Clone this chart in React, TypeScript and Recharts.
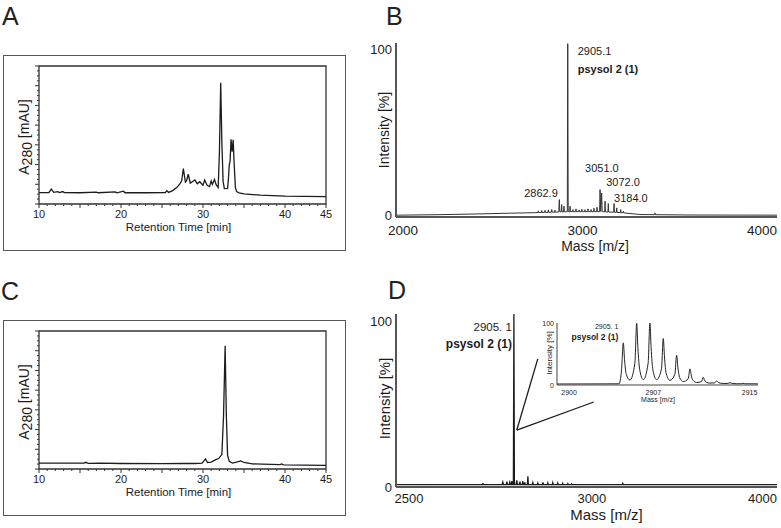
import React from "react";
import {
  LineChart,
  Line,
  XAxis,
  YAxis,
  ReferenceArea,
  ReferenceDot,
  ReferenceLine,
  Label,
} from "recharts";

const FONT = '"Liberation Sans", Arial, Helvetica, sans-serif';
const INK = "#1c1c1c";

// A: RP-HPLC of crude extract, [retention time min, A280 (arb. units)]
const TRACE_A = [
  [10, 5.8], [11.2, 5.8], [11.5, 7.6], [11.8, 5.9], [12.3, 6.3], [12.5, 5.8], [12.9, 6.3],
  [13.1, 5.8], [15, 5.7], [17, 6.0], [17.2, 5.7], [19.3, 6.1], [19.5, 5.7], [20.3, 6.5],
  [20.5, 5.7], [23, 5.7], [25.4, 5.8], [25.6, 6.7], [25.8, 5.9], [26.3, 6.8], [26.8, 8.3],
  [27.2, 10.3], [27.4, 11.8], [27.6, 18.0], [27.85, 11.1], [28.0, 11.8], [28.2, 15.1],
  [28.45, 10.6], [28.7, 11.3], [29.0, 12.2], [29.3, 10.3], [29.6, 11.3], [30.0, 9.5],
  [30.2, 12.2], [30.5, 9.5], [30.8, 8.8], [31.0, 11.7], [31.15, 9.9], [31.4, 12.5],
  [31.6, 9.8], [31.85, 8.3], [32.0, 25.9], [32.16, 61.5], [32.3, 31.5], [32.45, 11.6],
  [32.6, 7.8], [33.0, 7.9], [33.1, 12.7], [33.2, 19.8], [33.3, 21.5], [33.42, 32.8],
  [33.55, 26.5], [33.68, 32.6], [33.8, 20.4], [33.95, 8.3], [34.1, 6.3], [34.4, 5.7],
  [35, 5.1], [37, 4.5], [40, 4.0], [45, 3.7],
];

// C: purified peptide
const TRACE_C = [
  [10, 3.0], [15.5, 3.0], [15.7, 3.4], [16, 2.9], [17.5, 3.0], [20, 2.8], [25, 2.7],
  [27.5, 2.9], [29, 2.8], [29.9, 3.0], [30.3, 5.1], [30.55, 3.3], [31.0, 3.5], [31.5, 4.6],
  [31.9, 5.3], [32.3, 7.3], [32.5, 26.5], [32.7, 62.5], [32.85, 26.5], [33.0, 6.9],
  [33.2, 3.9], [33.6, 3.0], [34.2, 3.6], [34.6, 4.1], [35.0, 3.3], [36, 2.6], [39.4, 2.2],
  [39.6, 2.6], [39.8, 2.1], [45, 1.8],
];

const RT_LABELS = [10, 20, 30, 40, 45];
const RT_TICKS = Array.from({ length: 36 }, (_, i) => 10 + i);
const ABS_TICKS = Array.from({ length: 29 }, (_, i) => i * 2.5);

// B: MALDI spectrum of crude extract, [m/z, intensity %]
const SPECTRUM_B = [
  [1961, 0.2], [2200, 0.5], [2400, 0.9], [2600, 1.4], [2740, 1.7],
  [2752, 1.8], [2754, 2.8], [2756, 1.8], [2771, 1.8], [2773, 3.0], [2775, 1.8],
  [2789, 1.9], [2791, 3.1], [2793, 1.9], [2808, 1.9], [2810, 3.4], [2812, 1.9],
  [2827, 2.0], [2829, 3.6], [2831, 2.0], [2845, 2.0], [2847, 3.2], [2849, 2.0],
  [2868, 2.1], [2871, 9.6], [2874, 2.2], [2882, 2.2], [2884, 6.6], [2886, 2.2],
  [2895, 2.2], [2897, 5.6], [2899, 2.2], [2915.5, 2.3], [2918, 103.5], [2920.5, 2.3],
  [2929, 2.3], [2931, 5.6], [2933, 2.3], [2945, 2.3], [2947, 3.6], [2949, 2.3],
  [2962, 2.3], [2964, 4.0], [2966, 2.3], [2979, 2.3], [2981, 3.4], [2983, 2.3],
  [2995, 2.3], [2997, 3.8], [2999, 2.3], [3012, 2.3], [3014, 3.5], [3016, 2.3],
  [3029, 2.3], [3031, 4.0], [3033, 2.3], [3046, 2.3], [3048, 3.6], [3050, 2.3],
  [3062, 2.3], [3064, 4.4], [3066, 2.3], [3079, 2.3], [3081, 5.0], [3083, 2.3],
  [3095.5, 2.3], [3098, 15.6], [3102, 2.4], [3107, 13.6], [3110, 2.3],
  [3124, 2.2], [3126, 8.6], [3128, 2.2], [3142, 2.1], [3144, 7.2], [3146, 2.1],
  [3174, 2.0], [3176, 7.2], [3178, 2.0], [3189, 1.9], [3191, 4.6], [3193, 1.9],
  [3211, 1.7], [3213, 3.6], [3215, 1.7], [3226, 1.6], [3228, 2.6], [3230, 1.6],
  [3320, 0.6], [3402, 0.5], [3404, 1.6], [3406, 0.5], [3600, 0.3], [4084, 0.2],
];
const MZ_TICKS_B = [2000, 3000, 4000];
const MZ_TICK_TEXT_B = ["2000", "3000", "4000"];
const INT_TICKS = [0, 100];

// D: MALDI spectrum of purified peptide
const SPECTRUM_D = [
  [1852, 1.4], [2359, 1.4], [2361, 2.4], [2363, 1.4], [2474, 1.4], [2478, 3.0], [2482, 1.4],
  [2498, 1.4], [2502, 3.2], [2506, 1.4], [2515, 1.4], [2519, 3.0], [2523, 1.4],
  [2528, 1.4], [2531, 3.6], [2535, 1.4], [2540, 1.4], [2543, 104.8], [2546, 1.4],
  [2556, 1.4], [2560, 4.0], [2564, 1.4], [2574, 1.4], [2578, 3.2], [2582, 1.4],
  [2591, 1.4], [2595, 3.6], [2599, 1.4], [2604, 1.4], [2607, 2.8], [2610, 1.4],
  [2622, 1.4], [2625, 6.5], [2628, 1.4], [2651, 1.4], [2654, 2.6], [2657, 1.4],
  [2680, 1.4], [2683, 2.4], [2686, 1.4], [2710, 1.4], [2713, 2.8], [2716, 1.4],
  [2739, 1.4], [2742, 2.5], [2745, 1.4], [2768, 1.4], [2771, 2.6], [2774, 1.4],
  [2797, 1.4], [2800, 2.4], [2803, 1.4], [2826, 1.4], [2829, 2.2], [2832, 1.4],
  [2856, 1.4], [2859, 2.1], [2862, 1.4], [2879, 1.4], [2882, 1.9], [2885, 1.4],
  [3178, 1.4], [3181, 2.2], [3184, 1.4], [4085, 1.4],
];
const MZ_TICKS_D = [1928, 3000, 4000];
const MZ_TICK_TEXT_D = ["2500", "3000", "4000"];

// D inset: isotope cluster
const ISOTOPES_D = [
  [2899, 1.6], [2901, 1.7], [2903, 1.8], [2904.16, 1.9], [2904.36, 24], [2904.51, 68],
  [2904.61, 41], [2904.76, 17], [2905.06, 8], [2905.47, 35], [2905.62, 99.5],
  [2905.72, 60], [2905.87, 25], [2906.17, 8.6], [2906.57, 35], [2906.72, 100],
  [2906.82, 60], [2906.97, 24], [2907.27, 8.5], [2907.68, 26], [2907.83, 75],
  [2907.93, 45], [2908.08, 18], [2908.38, 7.5], [2908.79, 17], [2908.94, 48],
  [2909.04, 29], [2909.19, 12], [2909.49, 5.5], [2909.9, 10], [2910.05, 26],
  [2910.15, 16], [2910.3, 7.5], [2910.6, 4], [2911.0, 5.5], [2911.15, 12.4],
  [2911.25, 8], [2911.4, 4.5], [2911.7, 3], [2912.1, 3.5], [2912.26, 6.5],
  [2912.4, 4], [2912.8, 2.5], [2913.2, 2.5], [2913.37, 3.8], [2913.55, 2.6],
  [2913.9, 2.0], [2914.3, 2.0], [2914.45, 2.8], [2914.65, 2.0], [2915.7, 1.8],
];
const MZ_TICKS_INSET = [2900, 2907, 2915];

const toRows = (pts: number[][]) => pts.map(([x, y]) => ({ x, y }));

function RtTick(props: any) {
  const { x, y, payload } = props;
  const v = payload.value;
  const major = v % 5 === 0;
  return (
    <g>
      <line x1={x} x2={x} y1={y} y2={y + (major ? 4 : 2)} stroke="#333" />
      {RT_LABELS.includes(v) && (
        <text x={x} y={y + 9.5} textAnchor="middle" dominantBaseline="central"
          fontSize={11} fontFamily={FONT} fill={INK}>{v}</text>
      )}
    </g>
  );
}

function AbsTick(props: any) {
  const { x, y, payload } = props;
  const major = payload.value % 10 === 0;
  return <line x1={x} x2={x - (major ? 4 : 2)} y1={y} y2={y} stroke="#333" />;
}

const mzTick = (values: number[], texts: string[], dy: number, size: number) => (props: any) => {
  const { x, y, payload } = props;
  const i = values.indexOf(payload.value);
  return (
    <text x={x} y={y + dy} textAnchor="middle" dominantBaseline="central"
      fontSize={size} fontFamily={FONT} fill={INK}>{texts[i]}</text>
  );
};

const intTick = (dx: number, size: number) => (props: any) => (
  <text x={props.x - dx} y={props.y} textAnchor="end" dominantBaseline="central"
    fontSize={size} fontFamily={FONT} fill={INK}>{props.payload.value}</text>
);

const xTitle = (text: string, dx: number, dy: number, size: number) => (p: any) => {
  const vb = p.viewBox;
  return (
    <text x={vb.x + vb.width / 2 + dx} y={vb.y + dy} textAnchor="middle" dominantBaseline="central"
      fontSize={size} fontFamily={FONT} fill={INK}>{text}</text>
  );
};

const yTitle = (text: string, dx: number, dy: number, size: number) => (p: any) => {
  const vb = p.viewBox;
  const cx = vb.x + dx;
  const cy = vb.y + vb.height / 2 + dy;
  return (
    <text x={cx} y={cy} transform={`rotate(-90 ${cx} ${cy})`} textAnchor="middle"
      dominantBaseline="central" fontSize={size} fontFamily={FONT} fill={INK}>{text}</text>
  );
};

const a280Title = (p: any) => {
  const vb = p.viewBox;
  const cx = vb.x + 5;
  const cy = vb.y + vb.height / 2 + 2;
  return (
    <text x={cx} y={cy} transform={`rotate(-90 ${cx} ${cy})`} textAnchor="middle"
      dominantBaseline="central" fontSize={14} fontFamily={FONT} fill={INK}>
      A<tspan dy={3}>280</tspan><tspan dy={-3}> [mAU]</tspan>
    </text>
  );
};

type NoteLine = { text: string; bold?: boolean; size: number };
const note = (lines: NoteLine[], dx: number, dy: number, gap: number, anchor: string) => (p: any) => {
  const { x, y } = p.viewBox;
  return (
    <text x={x + dx} y={y + dy} textAnchor={anchor} fontFamily={FONT} fill={INK}>
      {lines.map((l, i) => (
        <tspan key={i} x={x + dx} dy={i ? gap : 0} fontSize={l.size} fontWeight={l.bold ? 700 : 400}>
          {l.text}
        </tspan>
      ))}
    </text>
  );
};

function Chromatogram({ points, top }: { points: number[][]; top: number }) {
  return (
    <div style={{ position: "absolute", left: 0, top, width: 350, height: 264 }}>
      <LineChart width={350} height={264} data={toRows(points)}
        margin={{ top: 66, right: 24, bottom: 30, left: 19 }}>
        <ReferenceArea x1={10} x2={45} y1={0} y2={70} fill="none" stroke="#333"
          strokeWidth={1.3} ifOverflow="visible" />
        <XAxis dataKey="x" type="number" domain={[10, 45]} allowDataOverflow ticks={RT_TICKS}
          interval={0} tick={<RtTick />} tickLine={false} tickSize={0} tickMargin={0}
          axisLine={false} height={30}
          label={<Label content={xTitle("Retention Time [min]", -4, 23, 11.5)} />} />
        <YAxis type="number" domain={[0, 70]} allowDataOverflow ticks={ABS_TICKS} interval={0}
          tick={<AbsTick />} tickLine={false} tickSize={0} tickMargin={0} axisLine={false}
          width={20} label={<Label content={a280Title} />} />
        <Line dataKey="y" type="linear" dot={false} stroke={INK} strokeWidth={1.3}
          isAnimationActive={false} />
      </LineChart>
    </div>
  );
}

const Letter = ({ ch, left, top }: { ch: string; left: number; top: number }) => (
  <div style={{ position: "absolute", left, top, fontSize: 25, lineHeight: "26px",
    fontFamily: FONT, color: "#222" }}>{ch}</div>
);

const Box = ({ top }: { top: number }) => (
  <div style={{ position: "absolute", left: 3, top, width: 343, height: 196,
    border: "1.5px solid #555", boxSizing: "border-box" }} />
);

const axisStyle = { stroke: "#555", strokeWidth: 2 };

export default function App() {
  return (
    <div style={{ position: "absolute", left: 0, top: 0, width: 781, height: 528,
      background: "#fff", overflow: "hidden" }}>
      <Letter ch="A" left={2} top={3} />
      <Letter ch="B" left={386} top={3} />
      <Letter ch="C" left={1} top={278} />
      <Letter ch="D" left={388} top={277} />

      <Box top={55} />
      <Chromatogram points={TRACE_A} top={0} />
      <Box top={320} />
      <Chromatogram points={TRACE_C} top={265} />

      {/* B */}
      <div style={{ position: "absolute", left: 370, top: 0, width: 411, height: 264 }}>
        <LineChart width={411} height={264} data={toRows(SPECTRUM_B)}
          margin={{ top: 43, right: 4, bottom: 17, left: 0 }}>
          <XAxis dataKey="x" type="number" domain={[1961, 4084]} allowDataOverflow
            ticks={MZ_TICKS_B} interval={0} tick={mzTick(MZ_TICKS_B, MZ_TICK_TEXT_B, 13, 13.5)}
            tickLine={false} tickSize={0} tickMargin={0} axisLine={axisStyle} height={30}
            label={<Label content={xTitle("Mass [m/z]", 8.5, 29, 14)} />} />
          <YAxis type="number" domain={[-0.9, 103.9]} allowDataOverflow ticks={INT_TICKS}
            interval={0} tick={intTick(4, 13)} tickLine={false} tickSize={0} tickMargin={0}
            axisLine={axisStyle} width={26}
            label={<Label content={yTitle("Intensity [%]", 14, 0, 14)} />} />
          <Line dataKey="y" type="linear" dot={false} stroke="#333" strokeWidth={1}
            isAnimationActive={false} />
          <ReferenceDot x={2918} y={103.5} r={0} fill="none" stroke="none" ifOverflow="visible"
            label={<Label content={note([{ text: "2905.1", size: 11 },
              { text: "psysol 2 (1)", bold: true, size: 11 }], 10, 11.5, 18, "start")} />} />
          <ReferenceDot x={2871} y={9.6} r={0} fill="none" stroke="none" ifOverflow="visible"
            label={<Label content={note([{ text: "2862.9", size: 11 }], -1.5, -3, 0, "end")} />} />
          <ReferenceDot x={3098} y={15.6} r={0} fill="none" stroke="none" ifOverflow="visible"
            label={<Label content={note([{ text: "3051.0", size: 11 }], -15, -18, 0, "start")} />} />
          <ReferenceDot x={3107} y={13.6} r={0} fill="none" stroke="none" ifOverflow="visible"
            label={<Label content={note([{ text: "3072.0", size: 11 }], 4.5, -6.7, 0, "start")} />} />
          <ReferenceDot x={3176} y={7.2} r={0} fill="none" stroke="none" ifOverflow="visible"
            label={<Label content={note([{ text: "3184.0", size: 11 }], 0, -2, 0, "start")} />} />
        </LineChart>
      </div>

      {/* D */}
      <div style={{ position: "absolute", left: 370, top: 264, width: 411, height: 264 }}>
        <LineChart width={411} height={264} data={toRows(SPECTRUM_D)}
          margin={{ top: 50, right: 4, bottom: 11, left: 0 }}>
          <XAxis dataKey="x" type="number" domain={[1852, 4085]} allowDataOverflow
            ticks={MZ_TICKS_D} interval={0} tick={mzTick(MZ_TICKS_D, MZ_TICK_TEXT_D, 11, 13)}
            tickLine={false} tickSize={0} tickMargin={0} axisLine={axisStyle} height={30}
            label={<Label content={xTitle("Mass [m/z]", 20, 27, 15)} />} />
          <YAxis type="number" domain={[0, 104.8]} allowDataOverflow ticks={INT_TICKS}
            interval={0} tick={intTick(4, 13)} tickLine={false} tickSize={0} tickMargin={0}
            axisLine={axisStyle} width={26}
            label={<Label content={yTitle("Intensity [%]", 14, -2, 15)} />} />
          <Line dataKey="y" type="linear" dot={false} stroke={INK} strokeWidth={1.3}
            isAnimationActive={false} />
          <ReferenceLine segment={[{ x: 2560, y: 34.5 }, { x: 2683, y: 77.6 }]} stroke={INK}
            strokeWidth={1.3} ifOverflow="visible" />
          <ReferenceLine segment={[{ x: 2560, y: 34.5 }, { x: 3011, y: 51.5 }]} stroke={INK}
            strokeWidth={1.3} ifOverflow="visible" />
          <ReferenceDot x={2543} y={104.8} r={0} fill="none" stroke="none" ifOverflow="visible"
            label={<Label content={note([{ text: "2905. 1", size: 11.5 },
              { text: "psysol 2 (1)", bold: true, size: 12 }], -2, 17, 16.5, "end")} />} />
        </LineChart>
      </div>

      {/* D inset */}
      <div style={{ position: "absolute", left: 520, top: 300, width: 250, height: 110 }}>
        <LineChart width={250} height={110} data={toRows(ISOTOPES_D)}
          margin={{ top: 23, right: 12, bottom: 0, left: 0 }}>
          <XAxis dataKey="x" type="number" domain={[2899, 2915.7]} allowDataOverflow
            ticks={MZ_TICKS_INSET} interval={0}
            tick={mzTick(MZ_TICKS_INSET, MZ_TICKS_INSET.map(String), 7, 7)}
            tickLine={false} tickSize={0} tickMargin={0}
            axisLine={{ stroke: "#444", strokeWidth: 1 }} height={25}
            label={<Label content={xTitle("Mass [m/z]", 0.5, 14, 7)} />} />
          <YAxis type="number" domain={[0, 100]} allowDataOverflow ticks={INT_TICKS} interval={0}
            tick={intTick(3, 7)} tickLine={false} tickSize={0} tickMargin={0}
            axisLine={{ stroke: "#444", strokeWidth: 1 }} width={37}
            label={<Label content={yTitle("Intensity [%]", 29, -1, 8)} />} />
          <Line dataKey="y" type="monotoneX" dot={false} stroke="#222" strokeWidth={1}
            isAnimationActive={false} />
          <ReferenceDot x={2904.51} y={68} r={0} fill="none" stroke="none" ifOverflow="visible"
            label={<Label content={note([{ text: "2905. 1", size: 7 },
              { text: "psysol 2 (1)", bold: true, size: 8.5 }], -5, -14.3, 11.5, "end")} />} />
        </LineChart>
      </div>
    </div>
  );
}
